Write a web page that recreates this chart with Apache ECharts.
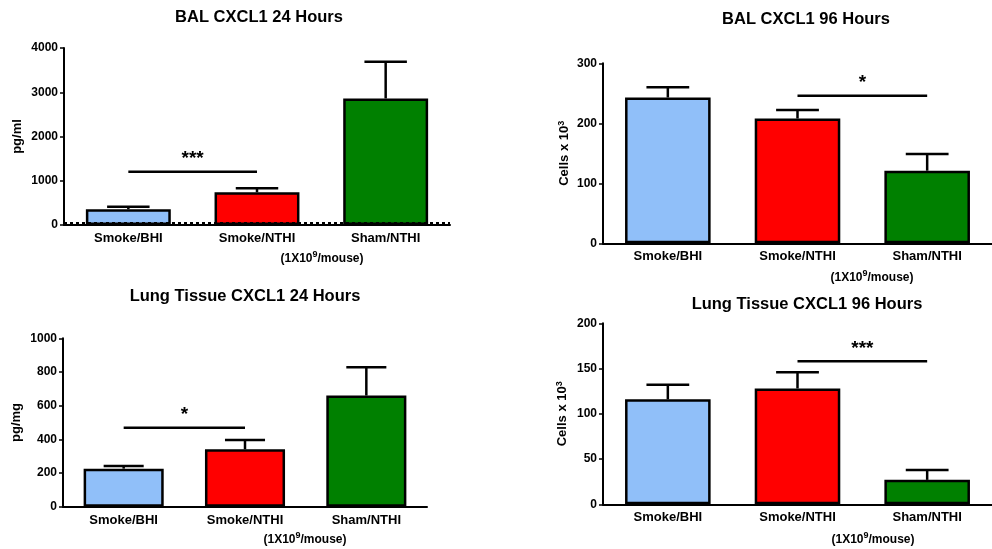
<!DOCTYPE html>
<html>
<head>
<meta charset="utf-8">
<script src="https://cdn.jsdelivr.net/npm/echarts@6/dist/echarts.min.js"></script>
<style>
html,body{margin:0;padding:0;background:#fff;}
#chart{width:992px;height:549px;}
</style>
</head>
<body>
<div id="chart"></div>
<script>
// ---------- data ----------
const categories = ['Smoke/BHI', 'Smoke/NTHI', 'Sham/NTHI'];
const barColors = ['#90BFF9', '#FF0000', '#008000'];

const titles = ['BAL CXCL1 24 Hours', 'BAL CXCL1 96 Hours', 'Lung Tissue CXCL1 24 Hours', 'Lung Tissue CXCL1 96 Hours'];
const yNames = ['pg/ml', 'Cells x 10{sup|3}', 'pg/mg', 'Cells x 10{sup|3}'];
const unitLabel = '{n|(1X10}{sup|9}{n|/mouse)}';

const bal24Mean = [355, 740, 2860];
const bal24Sem = [55, 90, 830];
const bal96Mean = [243, 208, 121];
const bal96Sem = [17, 14, 28];
const lung24Mean = [226, 341, 660];
const lung24Sem = [16, 55, 168];
const lung96Mean = [116, 128, 27];
const lung96Sem = [16, 18, 11];

const yMax = [4000, 300, 1000, 200];
const yInterval = [1000, 100, 200, 50];

// significance: [fromCategory, toCategory, yValue, label]
const bal24Sig = [0, 1, 1205, '***'];
const bal96Sig = [1, 2, 246, '*'];
const lung24Sig = [0, 1, 469, '*'];
const lung96Sig = [1, 2, 158, '***'];

const detectionLimit24 = 40; // dotted line in BAL 24h panel

// ---------- chart ----------
const FONT = '"Liberation Sans", Arial, sans-serif';
const means = [bal24Mean, bal96Mean, lung24Mean, lung96Mean];
const sems = [bal24Sem, bal96Sem, lung24Sem, lung96Sem];
const sigs = [bal24Sig, bal96Sig, lung24Sig, lung96Sig];

const grids = [
  {left: 64, top: 48, width: 386, height: 177},
  {left: 603, top: 63.3, width: 396, height: 180},
  {left: 63, top: 338.3, width: 364, height: 168.4},
  {left: 603, top: 323.3, width: 402, height: 181}
];
const titlePos = [[254, 4], [801, 6], [240, 283], [802, 291]];
const nameGaps = [40, 31, 40, 33];
const unitPos = [[322, 259], [872, 278], [305, 540], [873, 540]];
const BW = 0.66;

const option = {
  animation: false,
  backgroundColor: '#fff',
  textStyle: {fontFamily: FONT},
  title: titles.map((t, i) => ({
    text: t, left: titlePos[i][0], top: titlePos[i][1], textAlign: 'center',
    textStyle: {fontFamily: FONT, fontSize: 16.5, fontWeight: 'bold', color: '#000'}
  })),
  grid: grids,
  xAxis: grids.map((g, i) => ({
    type: 'category', gridIndex: i, data: categories,
    axisLine: {lineStyle: {color: '#000', width: 2}},
    axisTick: {show: false},
    axisLabel: {color: '#000', fontSize: 13, fontWeight: 'bold', fontFamily: FONT, margin: 7}
  })),
  yAxis: grids.map((g, i) => ({
    type: 'value', gridIndex: i, min: 0, max: yMax[i], interval: yInterval[i],
    name: yNames[i], nameLocation: 'middle', nameRotate: 90, nameGap: nameGaps[i],
    nameTextStyle: {color: '#000', fontSize: 13, fontWeight: 'bold', fontFamily: FONT,
      rich: {sup: {fontSize: 9, fontWeight: 'bold', color: '#000', verticalAlign: 'top', padding: [0, 0, 6, 0]}}},
    axisLine: {show: true, lineStyle: {color: '#000', width: 2}},
    axisTick: {show: true, length: 4, lineStyle: {color: '#000', width: 1.5}},
    axisLabel: {color: '#000', fontSize: 12, fontWeight: 'bold', fontFamily: FONT, margin: 6,
      formatter: v => String(v)},
    splitLine: {show: false}
  })),
  series: [],
  graphic: unitPos.map(p => ({
    type: 'text', x: p[0], y: p[1],
    style: {
      text: unitLabel, align: 'center', verticalAlign: 'middle',
      font: 'bold 12px ' + FONT, fill: '#000',
      rich: {
        n: {fontSize: 12, fontWeight: 'bold', fontFamily: FONT, fill: '#000', lineHeight: 17, verticalAlign: 'middle'},
        sup: {fontSize: 9, fontWeight: 'bold', fontFamily: FONT, fill: '#000', lineHeight: 10, verticalAlign: 'top'}
      }
    }
  }))
};

for (let i = 0; i < 4; i++) {
  const bar = {
    type: 'bar', xAxisIndex: i, yAxisIndex: i, barWidth: (BW * 100) + '%',
    data: means[i].map((v, k) => ({value: v, itemStyle: {color: barColors[k]}})),
    itemStyle: {borderColor: '#000', borderWidth: 2.5},
    z: 2
  };
  if (i === 0) {
    bar.markLine = {
      silent: true, symbol: 'none', label: {show: false},
      lineStyle: {color: '#000', type: [3, 3], width: 2},
      data: [{yAxis: detectionLimit24}], z: 5
    };
  }
  option.series.push(bar);

  option.series.push({
    type: 'custom', xAxisIndex: i, yAxisIndex: i, z: 3,
    data: means[i].map((v, k) => [k, v, sems[i][k]]),
    encode: {x: 0, y: [1, 2]},
    renderItem: function (params, api) {
      const idx = api.value(0), m = api.value(1), s = api.value(2);
      const p0 = api.coord([idx, m]);
      const p1 = api.coord([idx, m + s]);
      const bw = api.size([1, 0])[0] * BW;
      const hw = bw * 0.25;
      const st = {stroke: '#000', lineWidth: 2.5};
      return {type: 'group', children: [
        {type: 'line', shape: {x1: p0[0], y1: p0[1], x2: p1[0], y2: p1[1]}, style: st},
        {type: 'line', shape: {x1: p1[0] - hw, y1: p1[1], x2: p1[0] + hw, y2: p1[1]}, style: st}
      ]};
    }
  });

  option.series.push({
    type: 'custom', xAxisIndex: i, yAxisIndex: i, z: 4,
    data: [sigs[i]],
    renderItem: function (params, api) {
      const sg = sigs[i];
      const a = api.coord([sg[0], sg[2]]);
      const b = api.coord([sg[1], sg[2]]);
      return {type: 'group', children: [
        {type: 'line', shape: {x1: a[0], y1: a[1], x2: b[0], y2: b[1]}, style: {stroke: '#000', lineWidth: 2.5}},
        {type: 'text', x: (a[0] + b[0]) / 2, y: a[1] - 3,
          style: {text: sg[3], align: 'center', verticalAlign: 'bottom', font: 'bold 19px ' + FONT, fill: '#000'}}
      ]};
    }
  });
}

const chart = echarts.init(document.getElementById('chart'), null, {renderer: 'canvas'});
chart.setOption(option);
</script>
</body>
</html>
